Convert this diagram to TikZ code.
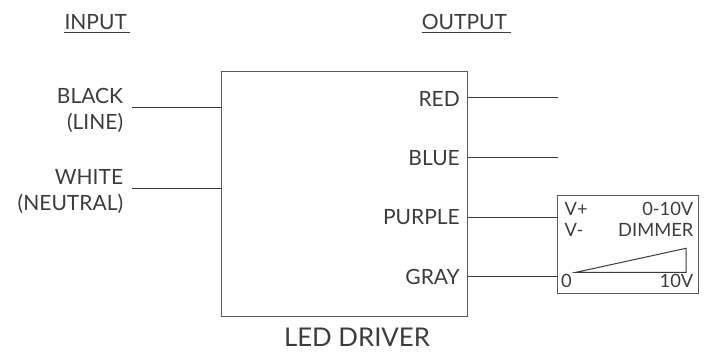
\documentclass[tikz,border=0pt]{standalone}
\usepackage{fontspec}
\setmainfont{Lato}
\definecolor{ink}{HTML}{3C3C3C}
\definecolor{wirec}{HTML}{3A3A3A}
\definecolor{framec}{HTML}{5A5A5A}

\begin{document}
\begin{tikzpicture}[x=1pt,y=-1pt,
		lbl/.style={inner sep=0pt, text=ink, font=\fontsize{21}{26}\selectfont},
		dimlbl/.style={inner sep=0pt, text=ink, font=\fontsize{18.3}{21}\selectfont},
		wire/.style={draw=wirec, line width=1pt},
		box/.style={draw=framec, line width=1pt, inner sep=0pt}]
		\useasboundingbox (0,0) rectangle (707,351);
		%%%%%%%%%%%%%
		\node[lbl, anchor=base west] (inp) at (64.3,29.3) {INPUT};
		\node[lbl, anchor=base west] (outp) at (421.7,29.3) {OUTPUT};
		\draw[ink, line width=1pt] ([yshift=-3.4pt]inp.base west) -- ([xshift=2.5pt, yshift=-3.4pt]inp.base east);
		\draw[ink, line width=1pt] ([yshift=-3.4pt]outp.base west) -- ([xshift=4pt, yshift=-3.4pt]outp.base east);
		%%%%%%%%%%%%%
		\node[box, minimum width=245.6pt, minimum height=245.7pt] (drv) at (344.5,193.9) {};
		\node[box, minimum width=141.5pt, minimum height=98pt] (dim) at (628.2,244.8) {};
		\node[anchor=base, inner sep=0pt, text=ink, font=\fontsize{25.8}{30}\selectfont] (drvname) at (357,346.5) {LED DRIVER};
		%%%%%%%%%%%%%
		\node[lbl, anchor=east, align=right] (blk) at (123.3,110) {BLACK\\(LINE)};
		\node[lbl, anchor=east, align=right] (wht) at (123.3,191.3) {WHITE\\(NEUTRAL)};
		\coordinate (blkpin) at (132,107);
		\coordinate (whtpin) at (132,188);
		\draw[wire] (blkpin) -- (blkpin -| drv.west);
		\draw[wire] (whtpin) -- (whtpin -| drv.west);
		%%%%%%%%%%%%%
		\node[lbl, anchor=east] (red) at (460,99) {RED};
		\node[lbl, anchor=east] (blu) at (460,158) {BLUE};
		\node[lbl, anchor=east] (pur) at (460,217.3) {PURPLE};
		\node[lbl, anchor=east] (gry) at (460,276.5) {GRAY};
		\coordinate (redend) at (557.7,97.7);
		\coordinate (bluend) at (557.7,157.3);
		\draw[wire] (drv.east |- redend) -- (redend);
		\draw[wire] (drv.east |- bluend) -- (bluend);
		\draw[wire] (drv.east |- pur) -- (dim.west |- pur);
		\draw[wire] (drv.east |- gry) -- (dim.west |- gry);
		%%%%%%%%%%%%%
		\node[dimlbl, anchor=base west] (vp) at (564.5,215) {V+};
		\node[dimlbl, anchor=base west] (vm) at (564.5,236.7) {V-};
		\node[dimlbl, anchor=base east] (rng) at (693.5,215) {0-10V};
		\node[dimlbl, anchor=base east] (dmr) at (693.5,236.7) {DIMMER};
		\node[dimlbl, anchor=base west] (lo) at (561,287) {0};
		\node[dimlbl, anchor=base east] (hi) at (693.5,287) {10V};
		\draw[wirec, line width=1pt] (576,272.3) -- (686,248.3) -- (686,272.3) -- cycle;
	\end{tikzpicture}
\end{document}
